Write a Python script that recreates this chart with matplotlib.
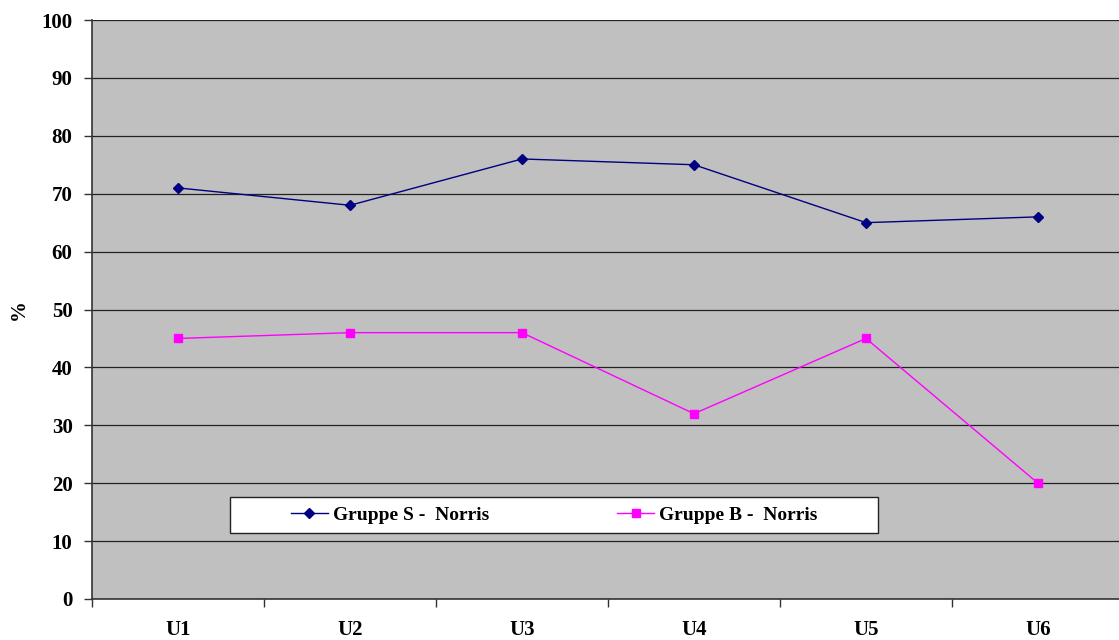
import matplotlib
matplotlib.use("Agg")
import matplotlib.pyplot as plt
from matplotlib.patches import Rectangle
import numpy as np

categories = ["U1", "U2", "U3", "U4", "U5", "U6"]
gruppe_s = [71, 68, 76, 75, 65, 66]
gruppe_b = [45, 46, 46, 32, 45, 20]
y_ticks = [0, 10, 20, 30, 40, 50, 60, 70, 80, 90, 100]

plt.rcParams["font.family"] = ["Liberation Serif", "DejaVu Serif"]
plt.rcParams["font.weight"] = "bold"

fig = plt.figure(figsize=(11.19, 6.40), dpi=100)
W, H = 1119, 640
left, right, top, bottom = 92, 1124, 20, 599
ax = fig.add_axes([left / W, 1 - bottom / H, (right - left) / W, (bottom - top) / H])
ax.set_facecolor("#C0C0C0")

x = np.arange(len(categories)) + 0.5
ax.plot(x, gruppe_s, color="#000080", lw=1.0, marker="D", markersize=4.8,
        label="Gruppe S -  Norris", zorder=3)
ax.plot(x, gruppe_b, color="#FF00FF", lw=1.0, marker="s", markersize=5.8,
        label="Gruppe B -  Norris", zorder=3)

ax.set_xlim(0, len(categories))
ax.set_ylim(0, 100)
ax.set_yticks(y_ticks)
ax.set_yticklabels([str(v) for v in y_ticks], fontsize=15, fontweight="bold")
ax.yaxis.grid(True, color="#222222", lw=0.9)
ax.set_axisbelow(True)

# category boundaries carry the ticks; labels sit at category centres
ax.set_xticks(np.arange(len(categories) + 1))
ax.set_xticklabels([])
ax.set_xticks(x, minor=True)
ax.set_xticklabels(categories, minor=True, fontsize=15, fontweight="bold")
ax.tick_params(axis="x", which="major", length=6, width=1, color="#333333")
ax.tick_params(axis="x", which="minor", length=0, pad=15)
ax.tick_params(axis="y", length=6, width=1, color="#333333", pad=8)

for side in ("top", "right"):
    ax.spines[side].set_visible(False)
for side in ("left", "bottom"):
    ax.spines[side].set_color("#333333")
    ax.spines[side].set_linewidth(1.2)

ax.set_ylabel("%", fontsize=15, fontweight="bold")
ax.yaxis.set_label_coords(-0.061, 0.5)

# legend box (white frame) with the entries centred inside it
bx0, bx1, by0, by1 = 230, 878, 533, 497
box_x = (bx0 - left) / (right - left)
box_w = (bx1 - bx0) / (right - left)
box_y = (bottom - by0) / (bottom - top)
box_h = (by0 - by1) / (bottom - top)
ax.add_patch(Rectangle((box_x, box_y), box_w, box_h, transform=ax.transAxes,
                       facecolor="white", edgecolor="#222222", lw=1.0, zorder=4))
leg = ax.legend(loc="center", bbox_to_anchor=(box_x + box_w / 2, box_y + box_h / 2),
                ncol=2, frameon=False, fontsize=14, handlelength=1.9,
                handletextpad=0.25, columnspacing=6.6, borderaxespad=0)
leg.set_zorder(5)
for t in leg.get_texts():
    t.set_fontweight("bold")

fig.savefig("out.png", dpi=100)
